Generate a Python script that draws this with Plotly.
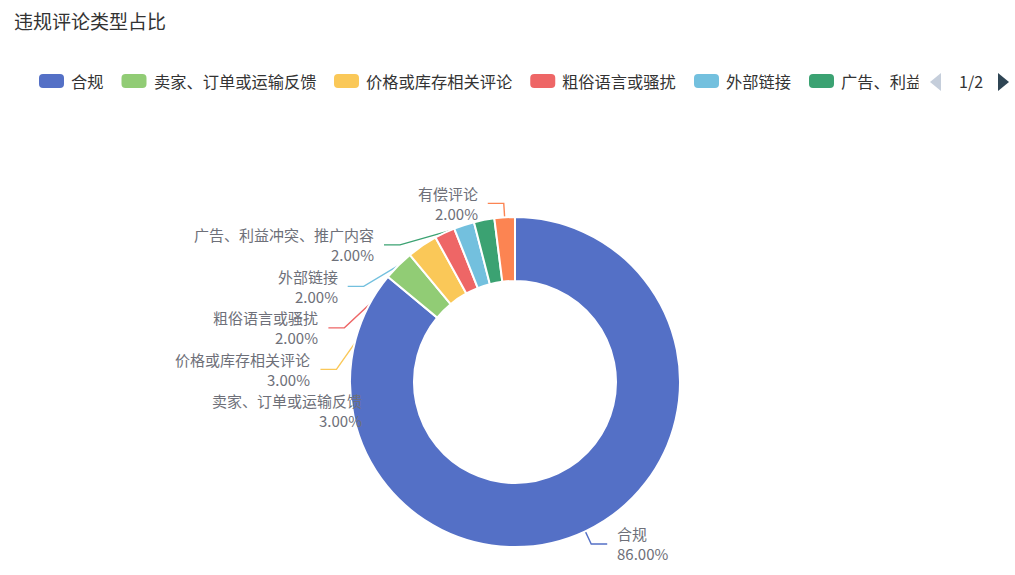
import math
import plotly.graph_objects as go

# ---------------- data ----------------
title_text = "违规评论类型占比"
categories = ["合规", "卖家、订单或运输反馈", "价格或库存相关评论", "粗俗语言或骚扰",
              "外部链接", "广告、利益冲突、推广内容", "有偿评论"]
values = [86, 3, 3, 2, 2, 2, 2]
colors = ["#5470c6", "#91cc75", "#fac858", "#ee6666", "#73c0de", "#3ba272", "#fc8452"]
legend_page_text = "1/2"
legend_visible_count = 6

# ---------------- layout constants (pixels) ----------------
W, H = 1015, 575
CX, CY, R = 515, 382, 164          # visible pie centre / outer radius
R_INNER = 102
LEN1, LEN2, LABEL_DIST = 15, 16, 8
LABEL_H = 41.5
FONT = "Noto Sans CJK SC, Microsoft YaHei, sans-serif"
LABEL_COLOR = "#6e7079"
TEXT_COLOR = "#333333"


def px(x):
    return x / W


def py(y):
    return 1 - y / H


# ---------------- pie ----------------
r_plot = R + 1
fig = go.Figure(go.Pie(
    labels=categories, values=values, sort=False, direction="clockwise", rotation=0,
    hole=(R_INNER - 1) / r_plot,
    marker=dict(colors=colors, line=dict(color="white", width=2)),
    textinfo="none", hoverinfo="label+value+percent",
    domain=dict(x=[px(CX - r_plot), px(CX + r_plot)], y=[py(CY + r_plot), py(CY - r_plot)]),
))

shapes = []
annotations = []

# ---------------- outer labels (ECharts-like layout) ----------------
total = sum(values)
items = []
cum = 0
for i, v in enumerate(values):
    mid = (cum + v / 2) / total * 2 * math.pi
    cum += v
    s, c = math.sin(mid), math.cos(mid)
    items.append(dict(i=i, side=(-1 if s < 0 else 1),
                      p0=(CX + R * s, CY - R * c),
                      x1=CX + (R + LEN1) * s, y=CY - (R + LEN1) * c))

rA = R + LEN1
for side in (-1, 1):
    lst = sorted([it for it in items if it["side"] == side], key=lambda t: t["y"])
    for k in range(1, len(lst)):
        if lst[k]["y"] < lst[k - 1]["y"] + LABEL_H:
            lst[k]["y"] = lst[k - 1]["y"] + LABEL_H
    for bottom in (False, True):
        semi = [it for it in lst if (it["y"] > CY) == bottom]
        if not semi:
            continue
        far = max(semi, key=lambda t: abs(t["y"] - CY))
        dy = abs(far["y"] - CY)
        dx = far["x1"] - CX
        rB = math.sqrt(dy * dy / (1 - dx * dx / rA / rA)) if abs(dx) < rA else rA
        for it in semi:
            dy = abs(it["y"] - CY)
            it["x1"] = CX + side * math.sqrt(max(0.0, 1 - dy * dy / rB / rB)) * rA

for it in items:
    i, side = it["i"], it["side"]
    x0, y0 = it["p0"]
    x1, y = it["x1"], it["y"]
    x2 = x1 + side * LEN2
    shapes.append(dict(
        type="path", xref="paper", yref="paper", layer="below",
        path=f"M {px(x0)} {py(y0)} L {px(x1)} {py(y)} L {px(x2)} {py(y)}",
        line=dict(color=colors[i], width=1.4)))
    pct = values[i] / total * 100
    annotations.append(dict(
        text=f"{categories[i]}<br>{pct:.2f}%", x=px(x2 + side * LABEL_DIST), y=py(y),
        xref="paper", yref="paper", showarrow=False,
        xanchor="right" if side < 0 else "left", yanchor="middle",
        align="right" if side < 0 else "left",
        font=dict(family=FONT, size=15, color=LABEL_COLOR)))

# ---------------- title ----------------
annotations.append(dict(text=title_text, x=px(12), y=py(20), xref="paper", yref="paper",
                        showarrow=False, xanchor="left", yanchor="middle",
                        font=dict(family=FONT, size=19, color=TEXT_COLOR)))

# ---------------- legend (paged, first page) ----------------
LEG_X0, LEG_Y = 39, 81
ICON_W, ICON_H, ICON_R = 25, 14, 4
ICON_GAP, ITEM_GAP, LEG_FONT = 6, 19, 16.25
LEG_CLIP_X = 918


def rrect(x0, y0, x1, y1, r):
    return (f"M {px(x0 + r)} {py(y0)} L {px(x1 - r)} {py(y0)} Q {px(x1)} {py(y0)} {px(x1)} {py(y0 + r)} "
            f"L {px(x1)} {py(y1 - r)} Q {px(x1)} {py(y1)} {px(x1 - r)} {py(y1)} "
            f"L {px(x0 + r)} {py(y1)} Q {px(x0)} {py(y1)} {px(x0)} {py(y1 - r)} "
            f"L {px(x0)} {py(y0 + r)} Q {px(x0)} {py(y0)} {px(x0 + r)} {py(y0)} Z")


x = LEG_X0
for i in range(legend_visible_count):
    shapes.append(dict(type="path", xref="paper", yref="paper",
                       path=rrect(x, LEG_Y - ICON_H / 2, x + ICON_W, LEG_Y + ICON_H / 2, ICON_R),
                       fillcolor=colors[i], line=dict(width=0)))
    tx = x + ICON_W + ICON_GAP - 1
    # legend text overflowing the legend area is clipped at LEG_CLIP_X
    n_fit = math.ceil((LEG_CLIP_X - tx) / LEG_FONT)
    annotations.append(dict(text=categories[i][:max(0, n_fit)], x=px(tx), y=py(LEG_Y),
                            xref="paper", yref="paper", showarrow=False,
                            xanchor="left", yanchor="middle",
                            font=dict(family=FONT, size=LEG_FONT, color=TEXT_COLOR)))
    x += ICON_W + ICON_GAP + len(categories[i]) * LEG_FONT + ITEM_GAP

# mask for the partially clipped last glyph
annotations.append(dict(text=" ", x=px(LEG_CLIP_X), y=py(LEG_Y), xref="paper", yref="paper",
                        showarrow=False, xanchor="left", yanchor="middle",
                        width=10, height=26, bgcolor="white", borderpad=0,
                        font=dict(size=10)))

# pager
shapes.append(dict(type="path", xref="paper", yref="paper", layer="above",
                   path=f"M {px(941)} {py(73)} L {px(930)} {py(82)} L {px(941)} {py(91)} Z",
                   fillcolor="#c5cedb", line=dict(width=0)))
shapes.append(dict(type="path", xref="paper", yref="paper", layer="above",
                   path=f"M {px(998)} {py(73)} L {px(1009)} {py(82)} L {px(998)} {py(91)} Z",
                   fillcolor="#2f4554", line=dict(width=0)))
annotations.append(dict(text=legend_page_text, x=px(957), y=py(81.5), xref="paper", yref="paper",
                        showarrow=False, xanchor="left", yanchor="middle",
                        font=dict(family=FONT, size=16, color=TEXT_COLOR)))

fig.update_layout(
    width=W, height=H, margin=dict(l=0, r=0, t=0, b=0),
    paper_bgcolor="white", plot_bgcolor="white", showlegend=False,
    shapes=shapes, annotations=annotations,
    font=dict(family=FONT),
)

fig.write_html("out.html", config={"displayModeBar": False},
               post_script="document.body.style.margin='0px';")
